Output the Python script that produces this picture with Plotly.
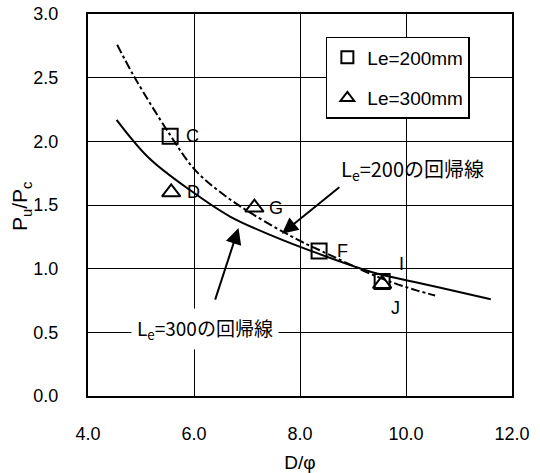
import plotly.graph_objects as go

# Measured specimens
sq_x = [5.55, 8.36, 9.55]          # Le=200mm : C, F, I
sq_y = [2.04, 1.14, 0.90]
sq_lab = ["C", "F", "I"]
tr_x = [5.57, 7.14, 9.55]          # Le=300mm : D, G, J
tr_y = [1.60, 1.48, 0.88]
tr_lab = ["D", "G", "J"]

# Regression curves
reg200_x = [4.55, 4.87, 5.55, 6.01, 6.50, 7.10, 8.04, 8.40, 9.50, 10.20, 10.55]
reg200_y = [2.76, 2.51, 2.05, 1.78, 1.60, 1.43, 1.21, 1.14, 0.93, 0.83, 0.79]
reg300_x = [4.54, 5.15, 5.95, 6.68, 7.47, 8.27, 9.38, 10.00, 10.65, 11.60]
reg300_y = [2.17, 1.87, 1.61, 1.41, 1.26, 1.13, 0.97, 0.91, 0.85, 0.76]

x_ticks = [4.0, 6.0, 8.0, 10.0, 12.0]
y_ticks = [0.0, 0.5, 1.0, 1.5, 2.0, 2.5, 3.0]

FONT = "Liberation Sans, Noto Sans CJK JP, Arial, sans-serif"
JFONT = "Noto Sans CJK JP, Liberation Sans, sans-serif"

fig = go.Figure()
fig.add_trace(go.Scatter(x=reg200_x, y=reg200_y, mode="lines", line_shape="spline",
                         line=dict(color="black", width=2, dash="9px,3px,3px,3px"),
                         showlegend=False, hoverinfo="skip"))
fig.add_trace(go.Scatter(x=reg300_x, y=reg300_y, mode="lines", line_shape="spline",
                         line=dict(color="black", width=2),
                         showlegend=False, hoverinfo="skip"))
fig.add_trace(go.Scatter(x=sq_x, y=sq_y, mode="markers", name="Le=200mm", legendgroup="a",
                         marker=dict(symbol="square-open", size=15, color="black",
                                     line=dict(width=2, color="black"))))
fig.add_trace(go.Scatter(x=tr_x, y=tr_y, mode="markers", name="Le=300mm", legendgroup="b",
                         marker=dict(symbol="triangle-up-open", size=16, color="black",
                                     line=dict(width=2, color="black"))))

# point labels
shifts = {"C": (22, 0), "F": (23, 0), "I": (19, 17), "D": (22, 0), "G": (22, 0), "J": (13, -24)}
for xs, ys, labs in ((sq_x, sq_y, sq_lab), (tr_x, tr_y, tr_lab)):
    for xv, yv, lb in zip(xs, ys, labs):
        dx, dy = shifts[lb]
        fig.add_annotation(x=xv, y=yv, text=lb, showarrow=False, xshift=dx, yshift=dy,
                           font=dict(size=18, color="black", family=FONT))

# regression-line callouts
fig.add_annotation(x=7.66, y=1.275, ax=8.77, ay=1.65, xref="x", yref="y", axref="x", ayref="y",
                   text="", showarrow=True, arrowhead=2, arrowsize=1.6, arrowwidth=2, arrowcolor="black")
fig.add_annotation(x=8.74, y=1.78, text="L<sub>e</sub>=200の回帰線", showarrow=False,
                   xanchor="left", font=dict(size=20, color="black", family=JFONT))
fig.add_annotation(x=6.84, y=1.32, ax=6.39, ay=0.745, xref="x", yref="y", axref="x", ayref="y",
                   text="", showarrow=True, arrowhead=2, arrowsize=1.6, arrowwidth=2, arrowcolor="black")
fig.add_annotation(x=6.2, y=0.53, text="L<sub>e</sub>=300の回帰線", showarrow=False,
                   xanchor="center", bgcolor="white", borderpad=5,
                   font=dict(size=19, color="black", family=JFONT))

# y-axis title (placed close to the tick labels as in the original)
fig.add_annotation(xref="paper", yref="paper", x=-0.158, y=0.495, text="P<sub>u</sub>/P<sub>c</sub>",
                   textangle=-90, showarrow=False, xanchor="center", yanchor="middle",
                   font=dict(size=21, family=FONT, color="black"))

fig.update_layout(
    width=540, height=473,
    margin=dict(l=88, r=28, t=14, b=77, autoexpand=False),
    paper_bgcolor="white", plot_bgcolor="white",
    font=dict(family=FONT, size=18, color="black"),
    showlegend=True,
    legend=dict(x=0.561, y=0.94, xanchor="left", yanchor="top",
                bgcolor="white", bordercolor="black", borderwidth=1.5,
                font=dict(size=19, family=FONT), tracegroupgap=13,
                entrywidth=165, itemsizing="constant"),
    xaxis=dict(range=[4.0, 12.0], tickvals=x_ticks, ticktext=[f"{v:.1f}" for v in x_ticks],
               showgrid=True, gridcolor="black", gridwidth=1, automargin=False,
               showline=True, linecolor="black", linewidth=2, mirror=True,
               ticks="", ticklabelstandoff=20, zeroline=False,
               tickfont=dict(size=18, family=FONT, color="black"),
               title=dict(text="D/φ", font=dict(size=19, family=FONT), standoff=14)),
    yaxis=dict(range=[0.0, 3.001], tickvals=y_ticks, ticktext=[f"{v:.1f}" for v in y_ticks],
               showgrid=True, gridcolor="black", gridwidth=1, automargin=False,
               showline=True, linecolor="black", linewidth=2, mirror=True,
               ticks="", ticklabelstandoff=24, zeroline=False,
               tickfont=dict(size=18, family=FONT, color="black")),
)

fig.write_html("out.html")
